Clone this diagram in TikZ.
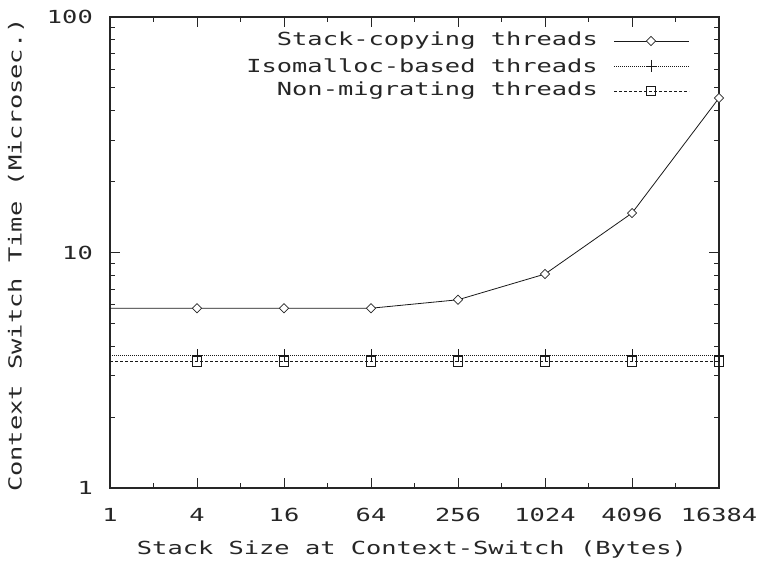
\documentclass[tikz,border=0pt]{standalone}
\usepackage{fontspec}
\newfontfamily\plotfont[FakeStretch=1.41]{DejaVu Sans Mono}
\usetikzlibrary{shapes.geometric}
\begin{document}
\begin{tikzpicture}[x=1pt,y=-1pt,
  axisline/.style={line width=1.1pt, black!85},
  tickline/.style={line width=0.9pt, black!85},
  lbl/.style={font=\plotfont\fontsize{18}{20}\selectfont, text=black!85, inner sep=0pt},
  copyline/.style={line width=0.8pt, black!90},
  isoline/.style={line width=0.8pt, black!90, dash pattern=on 1pt off 1pt},
  nonline/.style={line width=0.8pt, black!90, dash pattern=on 3pt off 2pt},
  dmark/.style={diamond, draw=black!85, fill=white, line width=0.7pt, inner sep=0pt, minimum width=9.5pt, minimum height=9.5pt},
  smark/.style={rectangle, draw=black!90, line width=0.9pt, inner sep=0pt, minimum size=9.5pt},
  pmark/.style={rectangle, inner sep=0pt, minimum width=10pt, minimum height=12pt},
  pstroke/.style={line width=0.9pt, black!90}
]
\useasboundingbox (0,0) rectangle (757,562);

% plot frame
\coordinate (ll) at (110,488);
\coordinate (ur) at (719,17);
\draw[axisline] (ll) rectangle (ur);

% x ticks (log base 4, minor at powers of 2)
\foreach \k in {0,...,7} {
  \draw[tickline] ({110+87*\k},488) -- ++(0,-10);
  \draw[tickline] ({110+87*\k},17) -- ++(0,10);
}
\foreach \k in {0,...,6} {
  \draw[tickline] ({110+87*(\k+0.5)},488) -- ++(0,-5);
  \draw[tickline] ({110+87*(\k+0.5)},17) -- ++(0,5);
}
% y ticks (log base 10)
\foreach \d in {0,1,2} {
  \draw[tickline] (110,{488-235.5*\d}) -- ++(10,0);
  \draw[tickline] (719,{488-235.5*\d}) -- ++(-10,0);
}
\foreach \d in {0,1} {
  \foreach \m in {2,...,9} {
    \draw[tickline] (110,{488-235.5*(\d+log10(\m))}) -- ++(5,0);
    \draw[tickline] (719,{488-235.5*(\d+log10(\m))}) -- ++(-5,0);
  }
}

% tick labels
\node[lbl, anchor=east] (y1) at (93,488) {1};
\node[lbl, anchor=east] (y10) at (93,252.5) {10};
\node[lbl, anchor=east] (y100) at (93,17) {100};
\foreach \k/\t in {0/1,1/4,2/16,3/64,4/256,5/1024,6/4096,7/16384}
  \node[lbl] (x\k) at ({110+87*\k},515) {\t};

% axis titles
\node[lbl] (xtitle) at (412,550) {Stack Size at Context-Switch (Bytes)};
\node[lbl, rotate=90] (ytitle) at (16,255) {Context Switch Time (Microsec.)};

% data: stack-copying threads
\coordinate (c0) at (110,{488-235.5*log10(5.8)});
\coordinate (c1) at (197,{488-235.5*log10(5.8)});
\coordinate (c2) at (284,{488-235.5*log10(5.8)});
\coordinate (c3) at (371,{488-235.5*log10(5.8)});
\coordinate (c4) at (458,{488-235.5*log10(6.3)});
\coordinate (c5) at (545,{488-235.5*log10(8.1)});
\coordinate (c6) at (632,{488-235.5*log10(14.7)});
\coordinate (c7) at (719,{488-235.5*log10(45.3)});
\draw[copyline] (c0) -- (c1) -- (c2) -- (c3) -- (c4) -- (c5) -- (c6) -- (c7);

% data: isomalloc-based threads
\coordinate (i0) at (110,{488-235.5*log10(3.65)});
\coordinate (i7) at (719,{488-235.5*log10(3.65)});
\draw[isoline] (i0) -- (i7);

% data: non-migrating threads
\coordinate (n0) at (110,{488-235.5*log10(3.45)});
\coordinate (n7) at (719,{488-235.5*log10(3.45)});
\draw[nonline] (n0) -- (n7);

% point markers
\foreach \k in {1,...,7} {
  \node[pmark] (ip\k) at ({110+87*\k},{488-235.5*log10(3.65)}) {};
  \draw[pstroke] (ip\k.north) -- (ip\k.south) (ip\k.west) -- (ip\k.east);
  \node[smark] (nm\k) at ({110+87*\k},{488-235.5*log10(3.45)}) {};
  \node[dmark] (cm\k) at (c\k) {};
}

% legend
\node[lbl, anchor=east] (lt1) at (598,41) {Stack-copying threads};
\node[lbl, anchor=east] (lt2) at (598,66) {Isomalloc-based threads};
\node[lbl, anchor=east] (lt3) at (598,91) {Non-migrating threads};
\coordinate (la1) at (614,41); \coordinate (lb1) at (689,41);
\coordinate (la2) at (614,66); \coordinate (lb2) at (689,66);
\coordinate (la3) at (614,91); \coordinate (lb3) at (689,91);
\draw[copyline] (la1) -- (lb1);
\draw[isoline] (la2) -- (lb2);
\draw[nonline] (la3) -- (lb3);
\node[dmark] (lm1) at (651,41) {};
\node[pmark] (lm2) at (651,66) {};
\draw[pstroke] (lm2.north) -- (lm2.south) (lm2.west) -- (lm2.east);
\node[smark] (lm3) at (651,91) {};
\end{tikzpicture}
\end{document}
